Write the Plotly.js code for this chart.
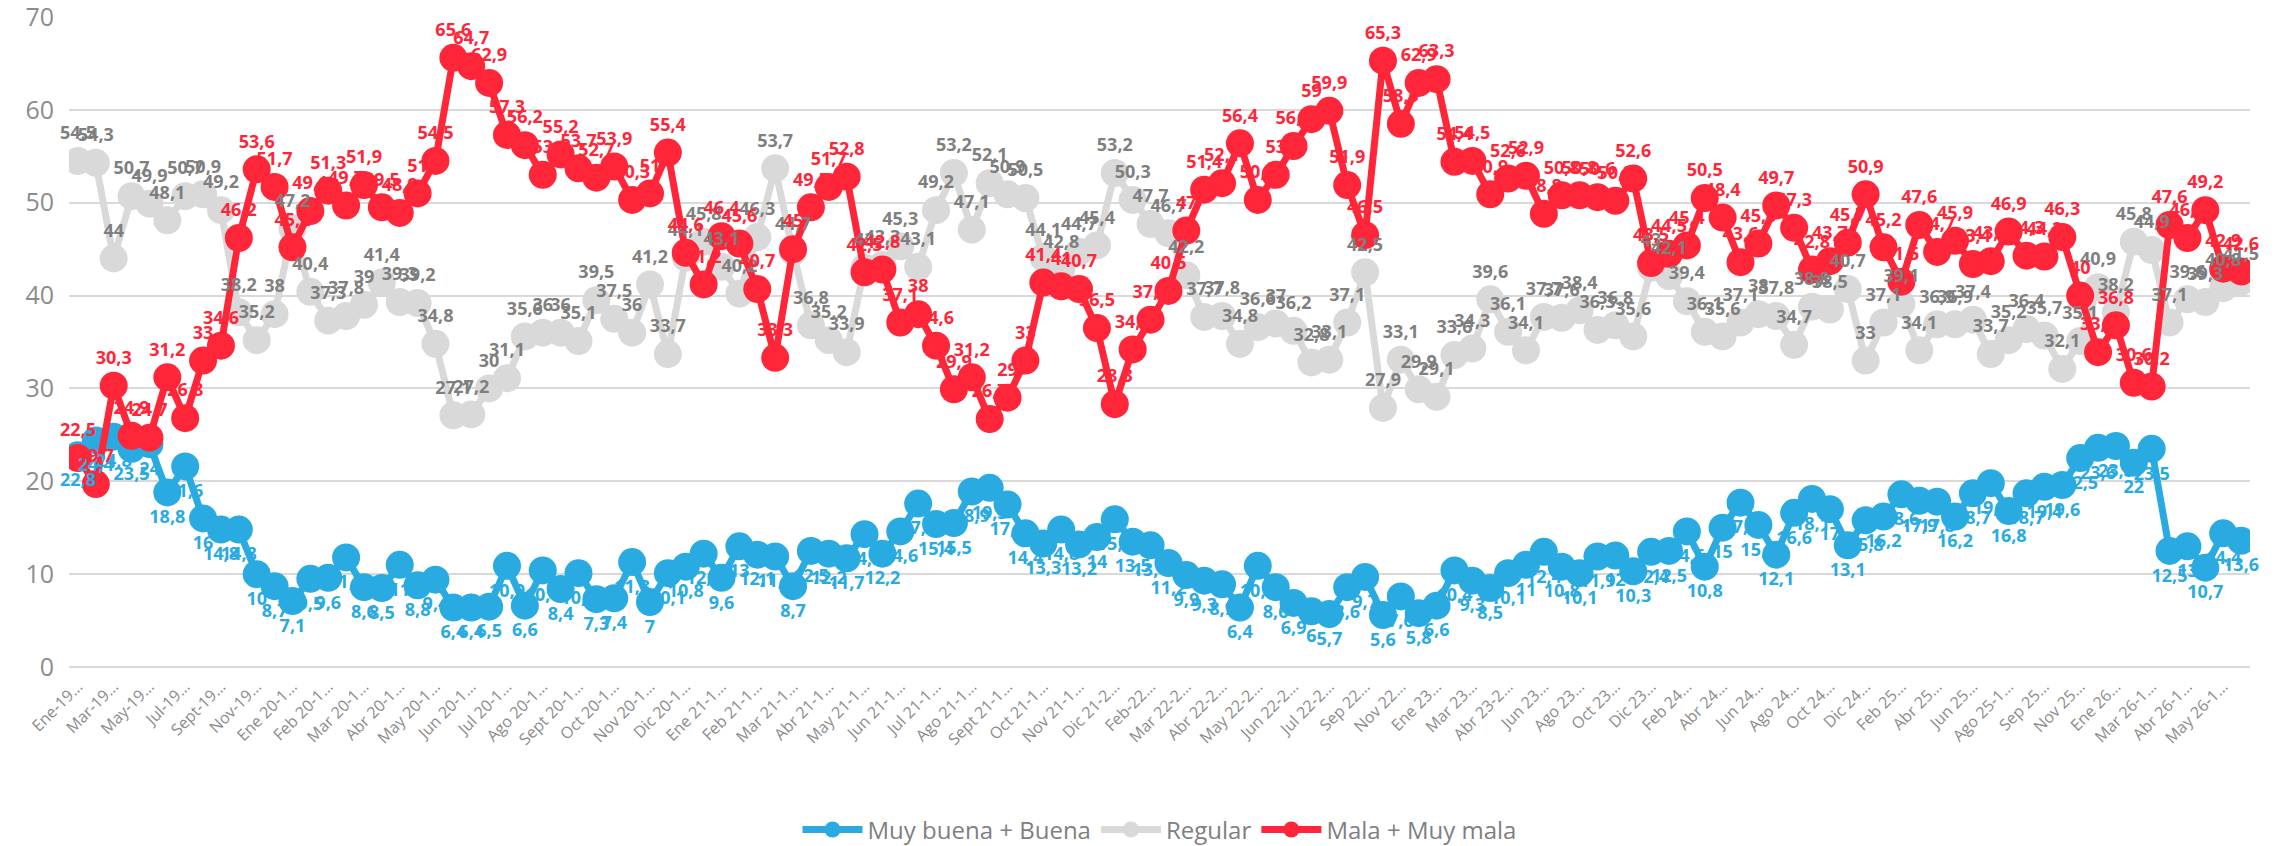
<!DOCTYPE html>
<html>
<head>
<meta charset="utf-8">
<script src="https://cdn.plot.ly/plotly-3.0.1.min.js"></script>
<style>
html,body{margin:0;padding:0;background:#fff;}
#chart{width:2282px;height:846px;}
</style>
</head>
<body>
<div id="chart"></div>
<script>
// Tick labels shown on the category axis (every second category)
const tickLabels = ["Ene-19…","Mar-19…","May-19…","Jul-19…","Sept-19…","Nov-19…","Ene 20-1…","Feb 20-1…","Mar 20-1…","Abr 20-1…",
"May 20-1…","Jun 20-1…","Jul 20-1…","Ago 20-1…","Sept 20-1…","Oct 20-1…","Nov 20-1…","Dic 20-1…","Ene 21-1…","Feb 21-1…",
"Mar 21-1…","Abr 21-1…","May 21-1…","Jun 21-1…","Jul 21-1…","Ago 21-1…","Sept 21-1…","Oct 21-1…","Nov 21-1…","Dic 21-2…",
"Feb-22…","Mar 22-2…","Abr 22-2…","May 22-2…","Jun 22-2…","Jul 22-2…","Sep 22…","Nov 22…","Ene 23…","Mar 23…",
"Abr 23-2…","Jun 23…","Ago 23…","Oct 23…","Dic 23…","Feb 24…","Abr 24…","Jun 24…","Ago 24…","Oct 24…",
"Dic 24…","Feb 25…","Abr 25…","Jun 25…","Ago 25-1…","Sep 25…","Nov 25…","Ene 26…","Mar 26-1…","Abr 26-1…","May 26-1…"];

const buena = [22.8,24.4,24.8,23.5,24,18.8,21.6,16,14.8,14.8,
10,8.7,7.1,9.5,9.6,11.8,8.6,8.5,11,8.8,
9.4,6.4,6.4,6.5,10.9,6.6,10.4,8.4,10.1,7.3,
7.4,11.3,7,10.1,10.8,12.2,9.6,13,12.1,11.9,
8.7,12.5,12.2,11.7,14.3,12.2,14.6,17.6,15.4,15.5,
18.9,19.3,17.5,14.4,13.3,14.8,13.2,14,15.9,13.5,
13.1,11.2,9.9,9.3,8.9,6.4,10.9,8.6,6.9,6,
5.7,8.6,9.7,5.6,7.6,5.8,6.6,10.4,9.3,8.5,
10.1,11,12.4,10.8,10.1,11.9,12,10.3,12.4,12.5,
14.6,10.8,15,17.7,15.3,12.1,16.6,18.1,17,13.1,
15.8,16.2,18.6,17.9,17.8,16.2,18.7,19.8,16.8,18.7,
19.4,19.6,22.5,23.6,23.8,22,23.5,12.5,13,10.7,14.4,13.6];

const regular = [54.5,54.3,44,50.7,49.9,48.1,50.7,50.9,49.2,38.2,
35.2,38,47.2,40.4,37.3,37.8,39,41.4,39.3,39.2,
34.8,27.1,27.2,30,31.1,35.6,36,36,35.1,39.5,
37.5,36,41.2,33.7,44.1,45.8,43.1,40.2,46.3,53.7,
44.7,36.8,35.2,33.9,43,43.3,45.3,43.1,49.2,53.2,
47.1,52.1,50.9,50.5,44.1,42.8,44.7,45.4,53.2,50.3,
47.7,46.7,42.2,37.7,37.8,34.8,36.6,37,36.2,32.8,
33.1,37.1,42.5,27.9,33.1,29.9,29.1,33.6,34.3,39.6,
36.1,34.1,37.7,37.6,38.4,36.3,36.8,35.6,43,42.1,
39.4,36.1,35.6,37.1,38,37.8,34.7,38.8,38.5,40.7,
33,37.1,39.1,34.1,36.9,36.9,37.4,33.7,35.2,36.4,
35.7,32.1,35.1,40.9,38.2,45.8,44.9,37.1,39.6,39.3,40.8,41.5];

const mala = [22.5,19.7,30.3,24.9,24.7,31.2,26.8,33,34.6,46.2,
53.6,51.7,45.2,49.1,51.3,49.7,51.9,49.5,48.9,51,
54.5,65.6,64.7,62.9,57.3,56.2,53,55.2,53.7,52.7,
53.9,50.3,51,55.4,44.6,41.2,46.4,45.6,40.7,33.3,
45,49.5,51.7,52.8,42.5,42.8,37.1,38,34.6,29.9,
31.2,26.7,29,33,41.4,41,40.7,36.5,28.3,34.2,
37.4,40.5,47,51.4,52.1,56.4,50.3,53,56.1,59,
59.9,51.9,46.5,65.3,58.5,62.9,63.3,54.4,54.5,50.9,
52.6,52.9,48.8,50.8,50.8,50.6,50.2,52.6,43.5,44.5,
45.4,50.5,48.4,43.6,45.6,49.7,47.3,42.8,43.7,45.7,
50.9,45.2,41.5,47.6,44.7,45.9,43.4,43.7,46.9,44.3,
44.2,46.3,40,33.9,36.8,30.6,30.2,47.6,46.2,49.2,42.9,42.6];

const seriesNames = ["Muy buena + Buena","Regular","Mala + Muy mala"];
const lineColors = ["#29abe2","#d9d9d9","#ff2639"];
const labelColors = ["#29abe2","#7f7f7f","#ff2639"];

const x = buena.map((_, i) => i);
const tickvals = tickLabels.map((_, i) => i * 2);
const fmt = v => String(v).replace('.', ',');

const seriesData = [buena, regular, mala];
const traces = [];
seriesData.forEach((ys, k) => {
  traces.push({
    type: 'scatter', mode: 'lines+markers', x: x, y: ys, name: seriesNames[k],
    line: {color: lineColors[k], width: 7},
    marker: {color: lineColors[k], size: 28},
    hoverinfo: 'skip'
  });
});
seriesData.forEach((ys, k) => {
  traces.push({
    type: 'scatter', mode: 'markers+text', x: x, y: ys, showlegend: false,
    text: ys.map(fmt),
    textposition: k === 0 ? 'bottom center' : 'top center',
    textfont: {family: 'Open Sans, sans-serif', size: 18, weight: 'bold', color: labelColors[k]},
    marker: {size: 26, opacity: 0},
    cliponaxis: false,
    hoverinfo: 'skip'
  });
});

const layout = {
  width: 2282, height: 846,
  margin: {l: 69, r: 32, t: 17, b: 179, autoexpand: false},
  paper_bgcolor: '#ffffff', plot_bgcolor: '#ffffff',
  showlegend: true,
  legend: {
    orientation: 'h', x: 0.5, xanchor: 'center',
    yref: 'container', y: 0.019, yanchor: 'middle',
    font: {family: 'Open Sans, sans-serif', size: 24, color: '#7f7f7f'},
    itemwidth: 60, traceorder: 'normal'
  },
  xaxis: {
    range: [-0.5, 121.5], tickmode: 'array', tickvals: tickvals, ticktext: tickLabels,
    tickangle: -45, tickfont: {family: 'Open Sans, sans-serif', size: 16, color: '#8c8c8c'},
    showgrid: false, zeroline: false, showline: false, ticks: '', ticklabelstandoff: 6,
    ticklabeloverflow: 'allow'
  },
  yaxis: {
    range: [0, 70], dtick: 10, tick0: 0,
    tickfont: {family: 'Open Sans, sans-serif', size: 25, color: '#8c8c8c'},
    gridcolor: '#d9d9d9', gridwidth: 2, zeroline: true, zerolinecolor: '#d9d9d9', zerolinewidth: 2,
    showline: false, ticks: '', ticklabelstandoff: 14, ticklabeloverflow: 'allow'
  }
};

Plotly.newPlot('chart', traces, layout, {displayModeBar: false, staticPlot: true});
</script>
</body>
</html>
